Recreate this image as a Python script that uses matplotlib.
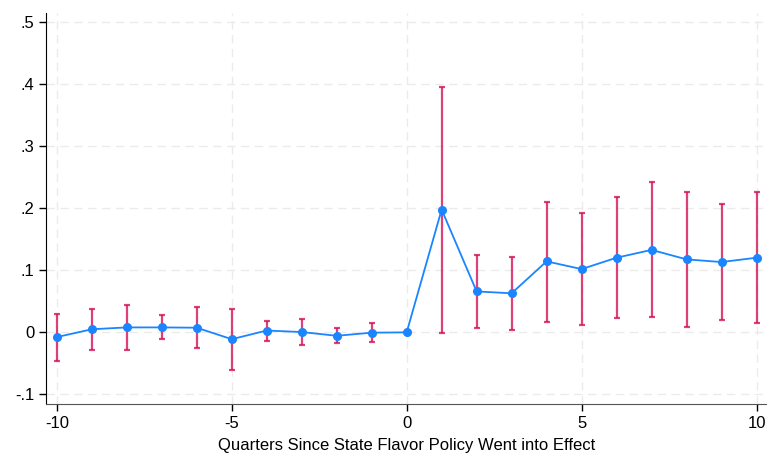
import matplotlib
matplotlib.use("Agg")
from matplotlib import pyplot as plt
import numpy as np

plt.rcParams['font.family'] = ['Liberation Sans', 'DejaVu Sans']

# event-study estimates, quarters relative to policy
quarters = [-10, -9, -8, -7, -6, -5, -4, -3, -2, -1, 0, 1, 2, 3, 4, 5, 6, 7, 8, 9, 10]
coef = [-0.0076, 0.005, 0.008, 0.008, 0.0075, -0.011, 0.003, 0.0005, -0.0055, -0.0005, 0.0,
        0.198, 0.066, 0.063, 0.1145, 0.102, 0.1204, 0.133, 0.1177, 0.1134, 0.1204]
ci_hi = [0.030, 0.038, 0.0445, 0.028, 0.041, 0.038, 0.019, 0.021, 0.0065, 0.0155, 0.0,
         0.396, 0.1247, 0.122, 0.211, 0.193, 0.219, 0.2425, 0.227, 0.207, 0.226]
ci_lo = [-0.046, -0.029, -0.0285, -0.011, -0.025, -0.061, -0.0135, -0.020, -0.017, -0.016, 0.0,
         -0.0005, 0.0075, 0.0037, 0.017, 0.012, 0.023, 0.0247, 0.008, 0.0204, 0.0155]

yticks = [-0.1, 0, 0.1, 0.2, 0.3, 0.4, 0.5]
ytick_labels = ["-.1", "0", ".1", ".2", ".3", ".4", ".5"]
xticks = [-10, -5, 0, 5, 10]

coef = np.array(coef)
lo_err = coef - np.array(ci_lo)
hi_err = np.array(ci_hi) - coef

fig = plt.figure(figsize=(7.67, 4.53), dpi=100)
ax = fig.add_axes([0.0604, 0.1075, 0.9396, 0.8645])

ax.plot(quarters, coef, color="#1a85ff", linewidth=1.3, marker="o", markersize=5.5,
        zorder=3)
ax.errorbar(quarters, coef, yerr=[lo_err, hi_err], fmt="none", ecolor="#d41159",
            alpha=0.8, elinewidth=1.6, capsize=2.5, capthick=1.6, zorder=2)

ax.set_xlim(-10.3, 10.3)
ax.set_ylim(-0.116, 0.5155)
ax.set_xticks(xticks)
ax.set_xticklabels([str(t) for t in xticks])
ax.set_yticks(yticks)
ax.set_yticklabels(ytick_labels)
ax.tick_params(labelsize=12, direction="out", length=5, width=1, colors="black")
ax.grid(True, color="#ebebeb", linestyle=(0, (6, 4)), linewidth=1, zorder=0)
ax.set_axisbelow(True)

for s in ["top", "right"]:
    ax.spines[s].set_visible(False)
ax.spines["left"].set_color("black")
ax.spines["bottom"].set_color("#555555")

ax.set_xlabel("Quarters Since State Flavor Policy Went into Effect", fontsize=12,
              labelpad=5)

fig.savefig("out.png", dpi=100, facecolor="white")
